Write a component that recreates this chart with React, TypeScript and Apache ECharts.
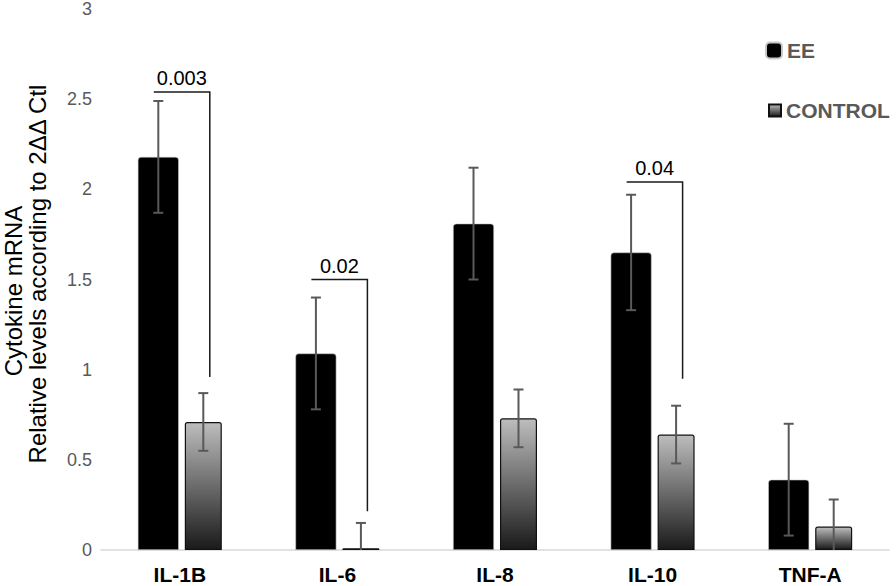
import React, { useEffect, useRef } from "react";
import * as echarts from "echarts";

const categories = ["IL-1B", "IL-6", "IL-8", "IL-10", "TNF-A"];
const eeValues = [2.18, 1.09, 1.81, 1.65, 0.39];
const eeErrors = [0.31, 0.31, 0.31, 0.32, 0.31];
const controlValues = [0.71, 0.01, 0.73, 0.64, 0.13];
const controlErrors = [0.16, 0.14, 0.16, 0.16, 0.15];
const yTicks = [0, 0.5, 1, 1.5, 2, 2.5, 3];
// brackets: [category index, top of bracket, bottom of right leg]
const brackets = [
  [0, 2.54, 0.96],
  [1, 1.5, 0.215],
  [3, 2.04, 0.95],
];
const pLabels = ["0.003", "0.02", "0.04"];

const FONT = "'Liberation Sans', Arial, sans-serif";

function errorSeries(name: string, values: number[], errors: number[], offset: number) {
  return {
    type: "custom",
    name: name + "-err",
    z: 5,
    silent: true,
    data: values.map((v, i) => [i, v - errors[i], v + errors[i]]),
    renderItem: (params: any, api: any) => {
      const idx = api.value(0);
      const lo = api.value(1);
      const hi = api.value(2);
      const pHi = api.coord([idx, hi]);
      const pLo = api.coord([idx, Math.max(lo, 0)]);
      const x = pHi[0] + offset;
      const cap = 5;
      const style = { stroke: "#595959", lineWidth: 2 };
      const children: any[] = [
        { type: "line", shape: { x1: x, y1: pHi[1], x2: x, y2: pLo[1] }, style },
        { type: "line", shape: { x1: x - cap, y1: pHi[1], x2: x + cap, y2: pHi[1] }, style },
      ];
      if (lo >= 0) {
        children.push({ type: "line", shape: { x1: x - cap, y1: pLo[1], x2: x + cap, y2: pLo[1] }, style });
      }
      return { type: "group", children };
    },
  };
}

export default function App() {
  const ref = useRef<HTMLDivElement>(null);
  useEffect(() => {
    if (!ref.current) return;
    const chart = echarts.init(ref.current, null, { renderer: "svg" });
    const legendText = { color: "#595959", fontSize: 21, fontWeight: "bold", fontFamily: FONT };
    const option: any = {
      animation: false,
      backgroundColor: "#ffffff",
      textStyle: { fontFamily: FONT },
      grid: { left: 101, right: 7, top: 9, bottom: 36, containLabel: false, outerBoundsMode: "none" },
      legend: [
        {
          data: ["EE"],
          left: 765,
          top: 40,
          padding: 0,
          itemWidth: 16,
          itemHeight: 16,
          icon: "roundRect",
          textStyle: legendText,
        },
        {
          data: ["CONTROL"],
          left: 768,
          top: 100,
          padding: 0,
          itemWidth: 12,
          itemHeight: 12,
          icon: "rect",
          textStyle: legendText,
        },
      ],
      xAxis: {
        type: "category",
        data: categories,
        axisLine: { lineStyle: { color: "#d9d9d9", width: 1.5 } },
        axisTick: { show: false },
        axisLabel: { color: "#000", fontSize: 21, fontWeight: "bold", margin: 14, fontFamily: FONT },
      },
      yAxis: {
        type: "value",
        min: yTicks[0],
        max: yTicks[yTicks.length - 1],
        interval: 0.5,
        axisLine: { show: false },
        axisTick: { show: false },
        splitLine: { show: false },
        axisLabel: { color: "#595959", fontSize: 18, margin: 9, fontFamily: FONT },
      },
      graphic: [
        {
          type: "text",
          x: 13,
          y: 291,
          rotation: Math.PI / 2,
          style: {
            text: "Cytokine mRNA",
            font: "24px 'Liberation Sans', Arial, sans-serif",
            fill: "#000",
            textAlign: "center",
            textVerticalAlign: "middle",
          },
        },
        {
          type: "text",
          x: 37,
          y: 274,
          rotation: Math.PI / 2,
          style: {
            text: "Relative levels according to 2ΔΔ Ctl",
            font: "24px 'Liberation Sans', Arial, sans-serif",
            fill: "#000",
            textAlign: "center",
            textVerticalAlign: "middle",
          },
        },
      ],
      series: [
        {
          name: "EE",
          type: "bar",
          data: eeValues,
          barWidth: 41,
          barGap: "14.6%",
          itemStyle: { color: "#000", borderRadius: [3, 3, 0, 0], borderColor: "#c8c8c8", borderWidth: 0.6 },
        },
        {
          name: "CONTROL",
          type: "bar",
          data: controlValues,
          barWidth: 37,
          itemStyle: {
            color: new echarts.graphic.LinearGradient(0, 0, 0, 1, [
              { offset: 0, color: "#bdbdbd" },
              { offset: 1, color: "#1a1a1a" },
            ]),
            borderColor: "#111",
            borderWidth: 1.2,
            borderRadius: [2, 2, 0, 0],
          },
        },
        errorSeries("EE", eeValues, eeErrors, -21.5),
        errorSeries("CONTROL", controlValues, controlErrors, 23.5),
        {
          type: "custom",
          name: "brackets",
          z: 6,
          silent: true,
          data: brackets,
          renderItem: (params: any, api: any) => {
            const idx = api.value(0);
            const top = api.coord([idx, api.value(1)]);
            const bottom = api.coord([idx, api.value(2)]);
            const xl = top[0] - 26;
            const xr = top[0] + 30;
            const style = { stroke: "#1a1a1a", lineWidth: 1.5 };
            return {
              type: "group",
              children: [
                { type: "polyline", shape: { points: [[xl, top[1]], [xr, top[1]], [xr, bottom[1]]] }, style: { ...style, fill: null } },
                {
                  type: "text",
                  x: (xl + xr) / 2,
                  y: top[1] - 14,
                  style: {
                    text: pLabels[params.dataIndex],
                    font: "20px 'Liberation Sans', Arial, sans-serif",
                    fill: "#000",
                    textAlign: "center",
                    textVerticalAlign: "middle",
                  },
                },
              ],
            };
          },
        },
      ],
    };
    chart.setOption(option);
    return () => chart.dispose();
  }, []);
  return <div ref={ref} style={{ width: 896, height: 586, position: "absolute", left: 0, top: 0 }} />;
}
